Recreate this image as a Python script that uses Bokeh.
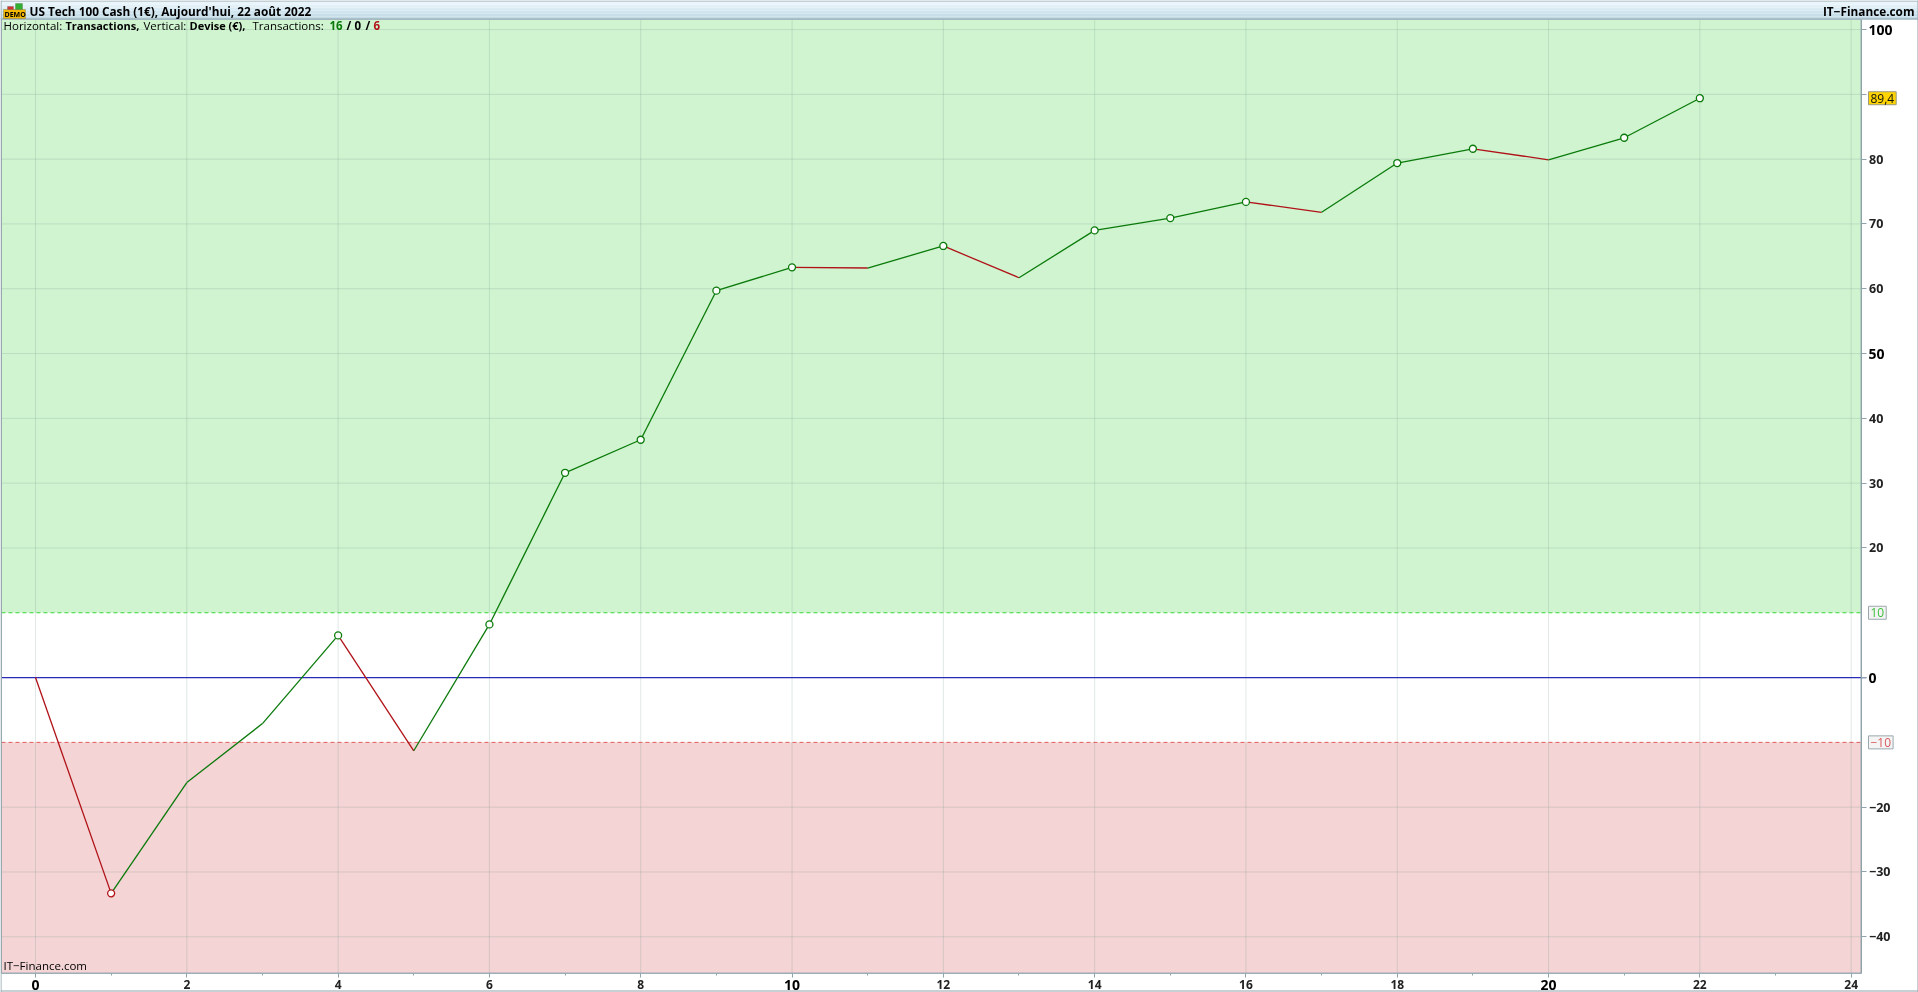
from bokeh.plotting import figure
from bokeh.embed import file_html
from bokeh.resources import INLINE
from bokeh.models import BoxAnnotation, Label, Range1d, FixedTicker, LinearAxis

trades = list(range(23))
equity = [0, -33.3, -16.2, -7.1, 6.5, -11.3, 8.2, 31.6, 36.7, 59.7, 63.3, 63.2, 66.6,
          61.7, 69.0, 70.9, 73.4, 71.8, 79.4, 81.6, 79.9, 83.3, 89.4]
green_marks = [4, 6, 7, 8, 9, 10, 12, 14, 15, 16, 18, 19, 21, 22]
red_marks = [1]
upper_level = 10
lower_level = -10
x_ticks = list(range(0, 25, 2))
x_minor = list(range(1, 25, 2))
y_grid = [-40, -30, -20, 20, 30, 40, 50, 60, 70, 80, 90, 100]
y_ticks = [-40, -30, -20, 0, 20, 30, 40, 50, 60, 70, 80, 90, 100]
y_hidden = {0: "", 50: "", 90: "", 100: ""}
y_bold = [0, 50, 100]
x_bold = [0, 10, 20]

# plot-area limits and full-window limits, in data units
x_lo, x_hi = -0.45, 24.13
y_lo, y_hi = -45.6, 101.6
win_x = (-0.4627, 24.89)
win_y = (-48.6, 104.48)

FONT = "Open Sans"
GREEN = "#0a7a0a"
RED = "#b01218"
EDGE = "#8fa3ab"
H = 992
W = 1918

p = figure(width=W, height=H, output_backend="svg", toolbar_location=None,
           x_range=Range1d(*win_x), y_range=Range1d(*win_y),
           x_axis_location=None, y_axis_location=None,
           min_border_left=0, min_border_right=0, min_border_top=0, min_border_bottom=0,
           background_fill_color="white", border_fill_color="white",
           outline_line_color=None)
p.styles = {"position": "fixed", "left": "0px", "top": "0px"}
p.xgrid.visible = False
p.ygrid.visible = False

xa = LinearAxis(ticker=FixedTicker(ticks=x_ticks, minor_ticks=x_minor),
                major_label_overrides={t: "" for t in x_ticks},
                fixed_location=y_lo, bounds=(x_lo, x_hi))
xa.major_tick_out = 4
xa.major_tick_in = 0
xa.minor_tick_out = 2
xa.minor_tick_in = 0
xa.axis_line_color = "#a9bcc6"
xa.major_tick_line_color = EDGE
xa.minor_tick_line_color = EDGE
p.add_layout(xa, "below")

ya = LinearAxis(ticker=FixedTicker(ticks=y_ticks), major_label_overrides=y_hidden,
                fixed_location=x_hi, bounds=(y_lo, y_hi))
ya.major_label_text_font = FONT
ya.major_label_text_font_size = "12.5px"
ya.major_label_text_font_style = "bold"
ya.major_label_text_color = "#222222"
ya.major_label_standoff = 3
ya.major_tick_out = 5
ya.major_tick_in = 0
ya.minor_tick_line_color = None
ya.axis_line_color = EDGE
ya.major_tick_line_color = EDGE
p.add_layout(ya, "right")

# coloured zones
p.add_layout(BoxAnnotation(left=x_lo, right=x_hi, bottom=upper_level, top=y_hi,
                           fill_color="#d0f4d0", fill_alpha=1, line_color=None, level="image"))
p.add_layout(BoxAnnotation(left=x_lo, right=x_hi, bottom=y_lo, top=lower_level,
                           fill_color="#f4d4d4", fill_alpha=1, line_color=None, level="image"))

# grid
p.segment(x0=x_ticks, x1=x_ticks, y0=[y_lo] * len(x_ticks), y1=[y_hi] * len(x_ticks),
          line_color="#5f8a80", line_alpha=0.2, line_width=1, level="underlay")
p.segment(x0=[x_lo] * len(y_grid), x1=[x_hi] * len(y_grid), y0=y_grid, y1=y_grid,
          line_color="#5f8a80", line_alpha=0.2, line_width=1, level="underlay")

# level lines
p.line([x_lo, x_hi], [upper_level, upper_level], line_color="#3ad63a", line_dash="4 3", line_width=1)
p.line([x_lo, x_hi], [lower_level, lower_level], line_color="#e05a5a", line_dash="4 3", line_width=1)
p.line([x_lo, x_hi + 0.07], [0, 0], line_color="#2a2ab8", line_width=1.3)

# frame edges
p.add_layout(BoxAnnotation(left=x_lo, right=x_hi, bottom=y_lo, top=y_hi, fill_color=None,
                           line_color=EDGE, line_alpha=0.9, line_width=1))

for a, b in zip(trades[:-1], trades[1:]):
    c = GREEN if equity[b] >= equity[a] else RED
    p.line([a, b], [equity[a], equity[b]], line_color=c, line_width=1.3)

p.scatter(green_marks, [equity[i] for i in green_marks], size=7, marker="circle",
          fill_color="white", line_color=GREEN, line_width=1.3)
p.scatter(red_marks, [equity[i] for i in red_marks], size=7, marker="circle",
          fill_color="white", line_color=RED, line_width=1.3)

# larger tick labels of the round values
for v in y_bold:
    p.add_layout(Label(x=1868, x_units="screen", y=v, y_units="data", text=str(v),
                       text_font=FONT, text_font_style="bold", text_font_size="14px",
                       text_color="#000000", text_baseline="middle", text_align="left"))
for v in x_ticks:
    big = v in x_bold
    p.add_layout(Label(x=v, x_units="data", y=H - 984, y_units="screen", text=str(v),
                       text_font=FONT, text_font_style="bold",
                       text_font_size="14px" if big else "12px",
                       text_color="#000000" if big else "#222222",
                       text_baseline="middle", text_align="center"))

def boxed(v, s, color, bg, border):
    p.add_layout(Label(x=1868, x_units="screen", y=v, y_units="data", text=s,
                       text_font=FONT, text_font_size="12px", text_color=color,
                       text_baseline="middle", text_align="left",
                       background_fill_color=bg, border_line_color=border, padding=2))

boxed(upper_level, "10", "#3cc03c", "#f4f4f4", "#9aa8ae")
boxed(lower_level, "−10", "#d85a5a", "#f4f4f4", "#9aa8ae")
boxed(equity[-1], "89,4", "#111111", "#ffd400", "#9a9a80")

def box(l, r, t, b, c, lc=None):
    p.add_layout(BoxAnnotation(left=l, right=r, top=H - t, bottom=H - b, left_units="screen",
                               right_units="screen", top_units="screen", bottom_units="screen",
                               fill_color=c, fill_alpha=1 if c else 0, line_color=lc, level="overlay"))

# title strip
strip = ["#eaf5fb", "#e2f0f8", "#d9ebf4", "#d0e5ef", "#c8dfea", "#c2dbe6"]
for i, c in enumerate(strip):
    box(0, W, 1 + i * 3, 1 + (i + 1) * 3, c)
box(0, W, 18, 19, EDGE)
box(0, W, 0, 1, EDGE)
box(0, 1, 0, H, EDGE)
box(W - 1, W, 0, H, EDGE)
box(0, W, H - 2, H - 1, EDGE)

def txt(x, y, s, size="11.5px", weight="normal", color="#000000", align="left"):
    p.add_layout(Label(x=x, y=H - y, x_units="screen", y_units="screen", text=s, text_font=FONT,
                       text_font_size=size, text_font_style=weight, text_color=color,
                       text_align=align, text_baseline="middle", level="overlay"))

txt(29, 10, "US Tech 100 Cash (1€), Aujourd'hui, 22 août 2022", size="11.8px", weight="bold")
txt(1914, 10, "IT−Finance.com", size="11.8px", weight="bold", align="right")
row = 25
txt(3, row, "Horizontal:")
txt(65, row, "Transactions,", size="11px", weight="bold")
txt(143, row, "Vertical:")
txt(189, row, "Devise (€),", size="11px", weight="bold")
txt(252, row, "Transactions:")
txt(329, row, "16", weight="bold", color=GREEN)
txt(346, row, "/", weight="bold")
txt(354, row, "0", weight="bold")
txt(365, row, "/", weight="bold")
txt(373, row, "6", weight="bold", color=RED)
txt(3, 965, "IT−Finance.com")

# demo badge
box(3, 25, 9, 18, "#f5b800", "#555533")
box(7, 13, 6, 9, "#d83030", "#555533")
box(15, 22, 3, 9, "#30b030", "#555533")
txt(4, 14, "DEMO", size="7px", weight="bold")

open("out.html", "w").write(file_html(p, INLINE))
